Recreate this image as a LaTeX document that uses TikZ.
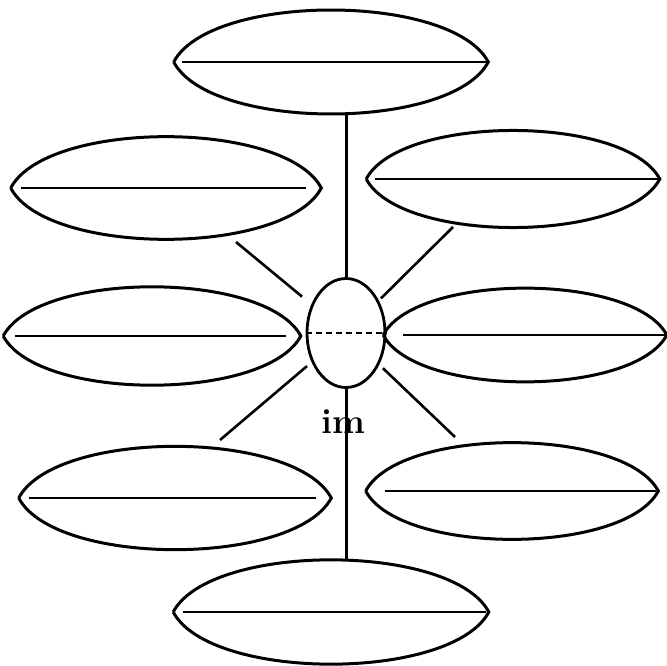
\documentclass[tikz,border=0pt]{standalone}
\usepackage{tikz}
\usetikzlibrary{shapes.geometric}

\begin{document}
\begin{tikzpicture}[x=1pt,y=-1pt,line width=2.6pt,
  petal/.style={shape=ellipse,inner sep=0pt},
  outline/.style={line width=3pt},
  midline/.style={line width=2.4pt},
  spoke/.style={line width=2.6pt}]
\path[use as bounding box] (0,0) rectangle (667,666);
% petals
\node[petal,minimum width=312,minimum height=102] (top) at (331,62) {};
\node[petal,minimum width=308,minimum height=104] (ul) at (166,188) {};
\node[petal,minimum width=291,minimum height=104] (ur) at (513,179) {};
\node[petal,minimum width=295,minimum height=100] (ml) at (152,336) {};
\node[petal,minimum width=281,minimum height=102] (mr) at (525,335) {};
\node[petal,minimum width=310,minimum height=104] (ll) at (175,498) {};
\node[petal,minimum width=290,minimum height=105] (lr) at (512,491) {};
\node[petal,minimum width=313,minimum height=103] (bot) at (331,612) {};
\foreach \n/\a/\b in {top/8/1,ul/10/15,ur/9/1,ml/12/15,mr/20/1,ll/10/15,lr/19/2,bot/10/3}{
  \draw[outline] (\n.west) to[out=62,in=118,looseness=0.64] (\n.east)
    to[out=-118,in=-62,looseness=0.64] (\n.west);
  \draw[midline] ([xshift=\a pt]\n.west) -- ([xshift=-\b pt]\n.east);
}
% centre
\node[draw,ellipse,inner sep=0pt,minimum width=78,minimum height=109,line width=2.8pt] (hub) at (346,333) {};
\draw[midline,dash pattern=on 6pt off 4pt] (hub.west) -- (hub.east);
\node[anchor=base,inner sep=0pt,font=\fontsize{35}{38}\selectfont\bfseries] (word) at (343,433) {im};
% connectors
\draw[line width=3pt] (hub.north) -- (hub.north |- top.south);
\draw[line width=3pt] (hub.south) -- (hub.south |- bot.north);
\coordinate (ulend) at (236,242);
\coordinate (urend) at (453,227);
\coordinate (llend) at (220,440);
\coordinate (lrend) at (455,437);
\draw[spoke,shorten <=12pt] (hub) -- (ulend);
\draw[spoke,shorten <=3pt] (hub) -- (urend);
\draw[spoke,shorten <=6pt] (hub) -- (llend);
\draw[spoke,shorten <=5pt] (hub) -- (lrend);
\end{tikzpicture}
\end{document}
